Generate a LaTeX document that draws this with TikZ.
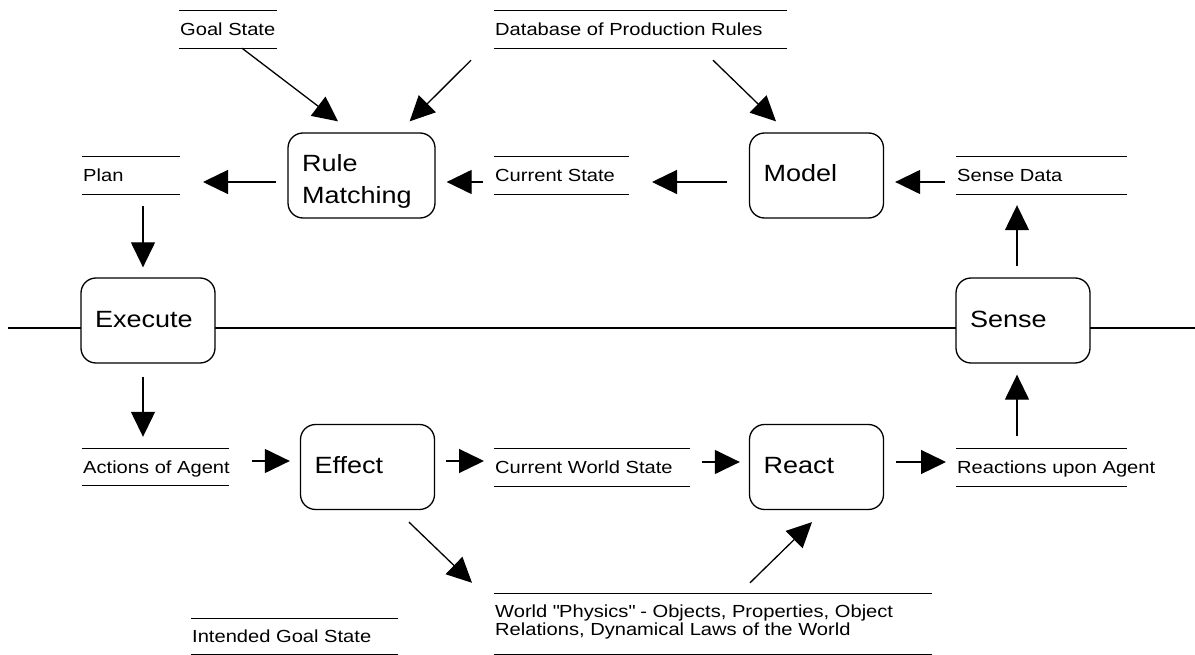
\documentclass[tikz,border=0pt]{standalone}
\usepackage{fontspec}
\newfontfamily\diagfont[FakeStretch=1.15]{Liberation Sans}
\usetikzlibrary{arrows.meta}
\pgfdeclarelayer{nodelayer}
\pgfdeclarelayer{edgelayer}
\pgfsetlayers{edgelayer,nodelayer,main}
\newcommand{\storefont}{\diagfont\fontsize{17.5}{17.5}\selectfont}
\newcommand{\procfont}{\diagfont\fontsize{23.5}{32}\selectfont}
\tikzstyle{process}=[draw=black, fill=white, line width=1.3pt, rounded corners=15pt, minimum width=134pt, minimum height=85pt, inner xsep=14pt, inner ysep=0pt, text width=106pt, align=left, text height=49pt, text depth=36pt, font=\procfont]
\tikzstyle{store line}=[draw=black, line width=1.3pt, -]
\tikzstyle{flow}=[draw=black, line width=1.3pt, -{Triangle[length=25pt, width=24pt]}]
\tikzstyle{boundary}=[draw=black, line width=1.3pt]
\tikzset{store/.style={anchor=west, inner xsep=1pt, inner ysep=0pt, minimum height=37pt, text height=12.5pt, text depth=0pt, align=left, font=\storefont,
    append after command={(\tikzlastnode.north west) edge [store line] ++(#1,0) (\tikzlastnode.south west) edge [store line] ++(#1,0)}}}

\begin{document}
\begin{tikzpicture}[x=1pt, y=-1pt]
	\useasboundingbox (0,0) rectangle (1195,655);
	\begin{pgfonlayer}{nodelayer}
		\node [style=process, minimum width=147pt, text width=119pt, text height=39pt, text depth=46pt] (rulematch) at (361.5, 175.5) {Rule\\Matching};
		\node [style=process] (model) at (816.5, 175.5) {Model};
		\node [style=process] (execute) at (148, 320.5) {Execute};
		\node [style=process] (sense) at (1023, 320.5) {Sense};
		\node [style=process] (effect) at (367.5, 467) {Effect};
		\node [style=process] (react) at (816.5, 467) {React};
		\node [store=98] (goal) at (179, 29.5) {Goal State};
		\node [store=293] (rules) at (494, 29.5) {Database of Production Rules};
		\node [store=98] (plan) at (82, 175.5) {Plan};
		\node [store=135] (curstate) at (494, 175.5) {Current State};
		\node [store=171] (sensedata) at (956, 175.5) {Sense Data};
		\node [store=147] (actions) at (82, 467) {Actions of Agent};
		\node [store=196] (worldstate) at (494, 467.5) {Current World State};
		\node [store=171] (reactions) at (956, 467.5) {Reactions upon Agent};
		\node [store=438, minimum height=60.2pt, text height=29.5pt, text depth=7.5pt] (physics) at (494, 624.1) {World \textquotedbl Physics\textquotedbl{} - Objects, Properties, Object\\Relations, Dynamical Laws of the World};
		\node [store=207, minimum height=35.2pt] (intended) at (191, 636.6) {Intended Goal State};
		\coordinate (lineleft) at (8, 328);
		\coordinate (lineright) at (1195, 328);
	\end{pgfonlayer}
	\begin{pgfonlayer}{edgelayer}
		\draw [style=boundary] (lineleft) to (lineright);
		% agent side
		\draw [style=flow] ([shift={(63,0)}]goal.south west) to ([shift={(-23.5,-11)}]rulematch.north);
		\draw [style=flow] ([shift={(-23,12)}]rules.south west) to ([shift={(-26,-11)}]rulematch.north east);
		\draw [style=flow] ([shift={(219,12)}]rules.south west) to ([shift={(-40.5,-11)}]model.north);
		\draw [style=flow] ([shift={(-22,6.5)}]model.west) to ([shift={(158,6.5)}]curstate.west);
		\draw [style=flow] ([shift={(-11,6.5)}]curstate.west) to ([shift={(11,6.5)}]rulematch.east);
		\draw [style=flow] ([shift={(-11,6.5)}]rulematch.west) to ([shift={(121,6.5)}]plan.west);
		\draw [style=flow] ([shift={(-11,6.5)}]sensedata.west) to ([shift={(11,6.5)}]model.east);
		\draw [style=flow] ([shift={(61,12)}]plan.south west) to ([shift={(-5,-10)}]execute.north);
		\draw [style=flow] ([shift={(-6,-11)}]sense.north) to ([shift={(61,11)}]sensedata.south west);
		% world side
		\draw [style=flow] ([shift={(-5,13)}]execute.south) to ([shift={(61,-11.5)}]actions.north west);
		\draw [style=flow] ([shift={(170,-6)}]actions.west) to ([shift={(-10,-6)}]effect.west);
		\draw [style=flow] ([shift={(11,-6)}]effect.east) to ([shift={(-10,-6.5)}]worldstate.west);
		\draw [style=flow] ([shift={(208,-5.5)}]worldstate.west) to ([shift={(-9,-5)}]react.west);
		\draw [style=flow] ([shift={(12,-5)}]react.east) to ([shift={(-10,-5.5)}]reactions.west);
		\draw [style=flow] ([shift={(61,-13)}]reactions.north west) to ([shift={(-6,11)}]sense.south);
		\draw [style=flow] ([shift={(41.5,12)}]effect.south) to ([shift={(-22,-11)}]physics.north west);
		\draw [style=flow] ([shift={(256,-11)}]physics.north west) to ([shift={(-4.5,12)}]react.south);
	\end{pgfonlayer}
\end{tikzpicture}
\end{document}
